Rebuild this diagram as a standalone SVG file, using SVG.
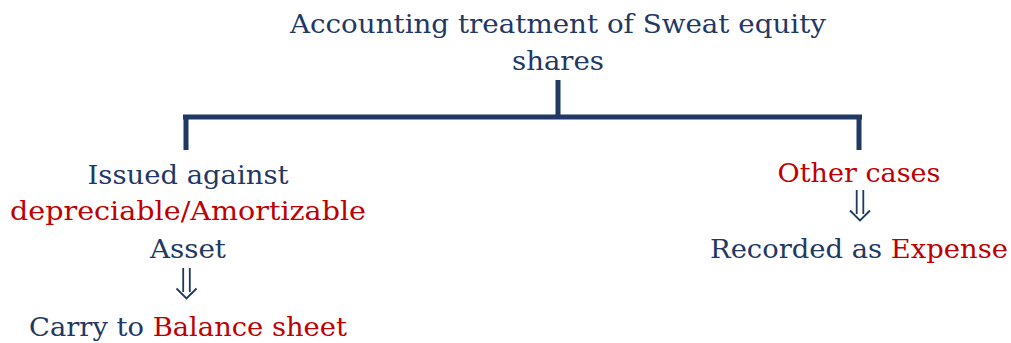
<svg xmlns="http://www.w3.org/2000/svg" width="1011" height="343" viewBox="0 0 1011 343">
<style>
text{font-family:"DejaVu Serif","Liberation Serif",serif;font-size:26px;text-anchor:middle;fill:#1F3864}
.r{fill:#C00000}
.ln{stroke:#1F3864;stroke-width:5;fill:none}
.ar{stroke:#1F3864;stroke-width:1.8;fill:none}
</style>
<defs>
<path id="dbl" class="ar" d="M-3.3 0V24M3.3 0V24M-10 20.5L0 30.5L10 20.5"/>
</defs>
<rect width="1011" height="343" fill="#fff"/>
<g id="root">
<text x="558" y="33" textLength="536" lengthAdjust="spacingAndGlyphs">Accounting treatment of Sweat equity</text>
<text x="558" y="70" textLength="92" lengthAdjust="spacingAndGlyphs">shares</text>
</g>
<g id="connectors">
<path class="ln" d="M558 80V117M183 117H862M186 115V150M859 115V150"/>
</g>
<g id="left">
<text x="188" y="184" textLength="201" lengthAdjust="spacingAndGlyphs">Issued against</text>
<text class="r" x="188" y="220" textLength="356" lengthAdjust="spacingAndGlyphs">depreciable/Amortizable</text>
<text x="188" y="258" textLength="76" lengthAdjust="spacingAndGlyphs">Asset</text>
<use href="#dbl" x="186.5" y="268"/>
<text x="188" y="336" textLength="318" lengthAdjust="spacingAndGlyphs">Carry to <tspan class="r">Balance sheet</tspan></text>
</g>
<g id="right">
<text class="r" x="859" y="182" textLength="163" lengthAdjust="spacingAndGlyphs">Other cases</text>
<use href="#dbl" x="860" y="190"/>
<text x="859" y="258" textLength="298" lengthAdjust="spacingAndGlyphs">Recorded as <tspan class="r">Expense</tspan></text>
</g>
</svg>
